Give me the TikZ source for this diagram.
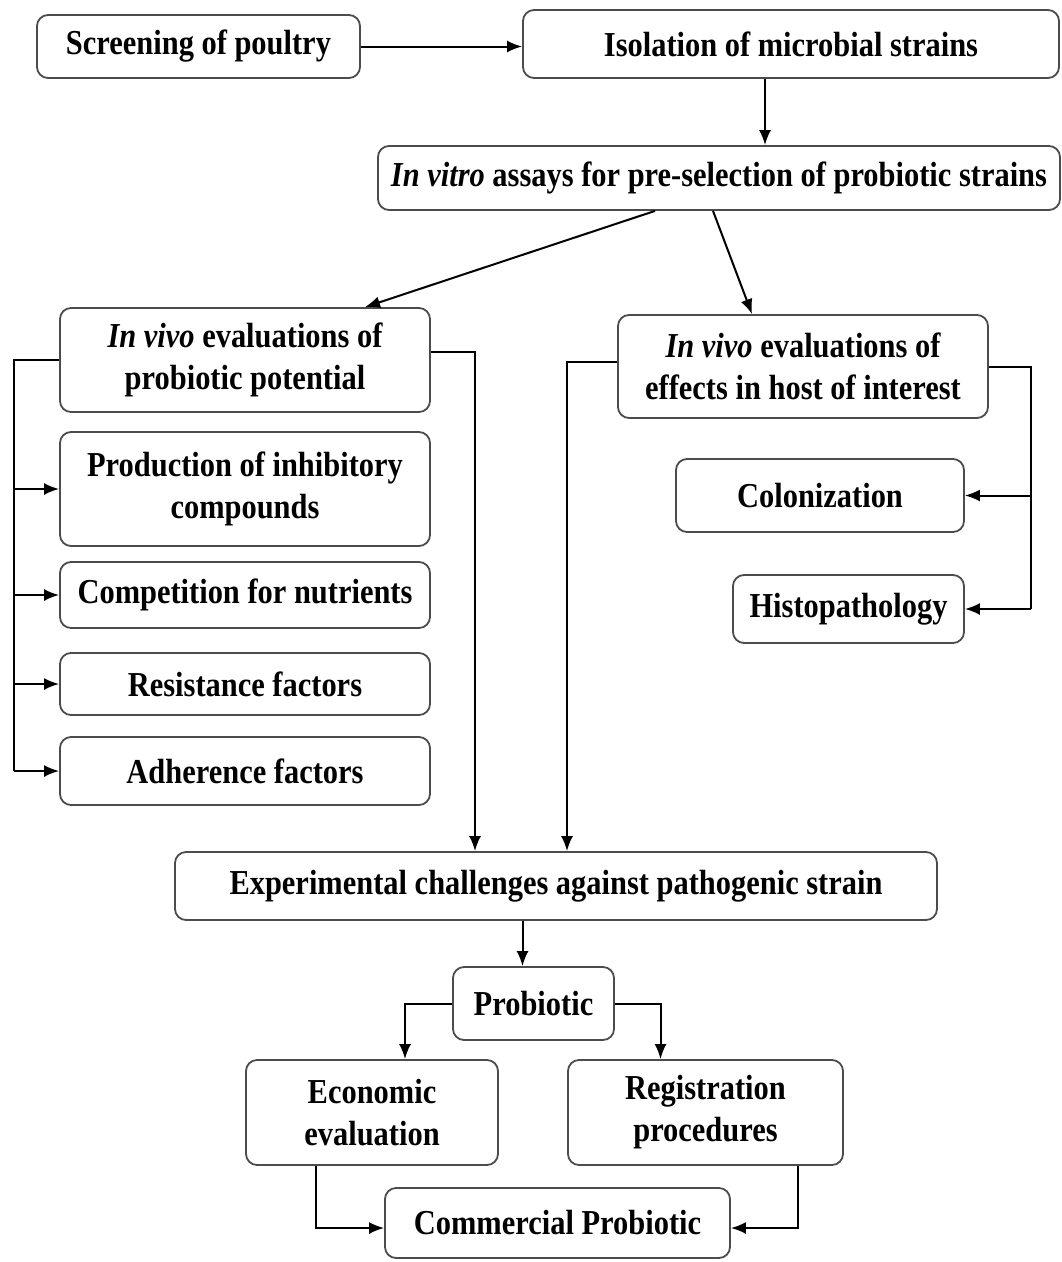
\documentclass[tikz,border=0pt]{standalone}
\usepackage{fontspec}
\setmainfont{Liberation Serif}[FakeStretch=0.87]
\usepackage{tikz}
\usetikzlibrary{arrows.meta,calc,positioning}

\begin{document}
\begin{tikzpicture}[
  x=1pt, y=-1pt,
  stage/.style={rectangle, rounded corners=11pt, draw=black!70, line width=1.8pt, fill=white,
    align=center, inner sep=0pt, font=\fontsize{35}{42}\selectfont\bfseries},
  link/.style={line width=2pt, black},
  >={Latex[length=15pt,width=12pt]}
]
  \useasboundingbox (0,0) rectangle (1062,1262);
  % top row
  \node[stage, minimum width=323pt, minimum height=63pt] (screen) at (198.5,46.5) {Screening of poultry};
  \node[stage, minimum width=536pt, minimum height=68pt] (isol) at (791,44) {Isolation of microbial strains};
  \node[stage, minimum width=682pt, minimum height=64pt] (vitro) at (719,178) {\textit{In vitro} assays for pre-selection of probiotic strains};
  % left branch
  \node[stage, minimum width=370pt, minimum height=104pt] (ivl) at (245,360) {\textit{In vivo} evaluations of\\probiotic potential};
  \node[stage, minimum width=370pt, minimum height=114pt] (prod) at (245,489) {Production of inhibitory\\compounds};
  \node[stage, minimum width=370pt, minimum height=66pt] (comp) at (245,595) {Competition for nutrients};
  \node[stage, minimum width=370pt, minimum height=62pt] (resi) at (245,684) {Resistance factors};
  \node[stage, minimum width=370pt, minimum height=68pt] (adhe) at (245,771) {Adherence factors};
  % right branch
  \node[stage, minimum width=370pt, minimum height=103pt] (ivr) at (803,366.5) {\textit{In vivo} evaluations of\\effects in host of interest};
  \node[stage, minimum width=288pt, minimum height=73pt] (colon) at (820,495.5) {Colonization};
  \node[stage, minimum width=231pt, minimum height=68pt] (histo) at (848.5,609) {Histopathology};
  % bottom part
  \node[stage, minimum width=762pt, minimum height=68pt] (chall) at (556,886) {Experimental challenges against pathogenic strain};
  \node[stage, minimum width=161pt, minimum height=73pt] (prob) at (533.5,1003.5) {Probiotic};
  \node[stage, minimum width=252pt, minimum height=105pt] (econ) at (372,1112.5) {Economic\\evaluation};
  \node[stage, minimum width=275pt, minimum height=105pt] (regi) at (705.5,1112.5) {Registration\\procedures};
  \node[stage, minimum width=345pt, minimum height=70pt] (comm) at (557.5,1223) {Commercial Probiotic};

  % main flow
  \draw[link, ->] (screen.east) -- (screen.east -| isol.west);
  \draw[link, ->] ([xshift=-26pt]isol.south) -- ([xshift=-26pt]isol.south |- vitro.north);
  \draw[link, ->] ([xshift=-64pt]vitro.south) -- ([xshift=120pt]ivl.north);
  \draw[link, ->] ([xshift=-6pt]vitro.south) -- ([xshift=-51pt]ivr.north);

  % left bus
  \draw[link] (ivl.west) -- ++(-45,0) coordinate (busL) -- (busL |- adhe.west);
  \foreach \b in {prod,comp,resi,adhe}
    \draw[link, ->] (busL |- \b.west) -- (\b.west);

  % right bus
  \draw[link] (ivr.east) -- ++(42,0) coordinate (busR) -- (busR |- histo.east);
  \foreach \b in {colon,histo}
    \draw[link, ->] (busR |- \b.east) -- (\b.east);

  % towards the challenge
  \draw[link, ->] ([yshift=8pt]ivl.east) -| ([xshift=-81pt]chall.north);
  \draw[link, ->] ([yshift=5pt]ivr.west) -| ([xshift=11pt]chall.north);
  \draw[link, ->] ([xshift=-11pt]prob.north |- chall.south) -- ([xshift=-11pt]prob.north);

  % probiotic to market
  \draw[link, ->] (prob.west) -| ([xshift=33pt]econ.north);
  \draw[link, ->] (prob.east) -| ([xshift=-45pt]regi.north);
  \draw[link, ->] ([xshift=-56pt]econ.south) |- ([yshift=-5pt]comm.west);
  \draw[link, ->] ([xshift=92pt]regi.south) |- ([yshift=-5pt]comm.east);
\end{tikzpicture}
\end{document}
